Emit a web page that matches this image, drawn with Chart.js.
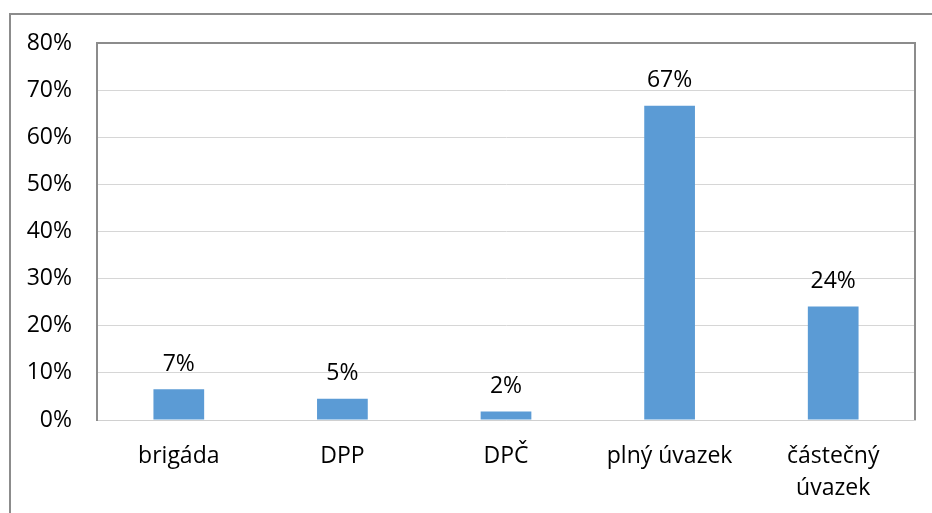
<!DOCTYPE html>
<html lang="cs">
<head>
    <meta charset="UTF-8">
    <title>Typ úvazku</title>
    <script src="https://cdn.jsdelivr.net/npm/chart.js"></script>
    <style>
        html, body { margin: 0; padding: 0; overflow: hidden; background: #fff; }
        .frame {
            position: absolute; left: 9px; top: 13px;
            width: 1000px; height: 600px;
            border-left: 2px solid #8c8c8c; border-top: 2px solid #8c8c8c;
        }
        .chart-box { position: absolute; left: 0; top: 0; width: 932px; height: 513px; }
    </style>
</head>
<body>
    <div class="frame"></div>
    <div class="chart-box">
        <canvas id="uvazekGraf"></canvas>
    </div>

    <script>
        // data z grafu
        const kategorie = ['brigáda', 'DPP', 'DPČ', 'plný úvazek', ['částečný', 'úvazek']];
        const podily = [6.5, 4.5, 1.8, 66.7, 24.1];
        const osaY = [0, 10, 20, 30, 40, 50, 60, 70, 80];

        const pismo = "'Open Sans', 'Liberation Sans', sans-serif";

        // popisky nad sloupci + horni a prava hrana plochy grafu
        const popiskyPlugin = {
            id: 'popisky',
            afterDatasetsDraw(chart) {
                const ctx = chart.ctx;
                const meta = chart.getDatasetMeta(0);
                ctx.save();
                ctx.font = '23px ' + pismo;
                ctx.fillStyle = '#000';
                ctx.textAlign = 'center';
                ctx.textBaseline = 'middle';
                meta.data.forEach((bar, i) => {
                    ctx.fillText(Math.round(podily[i]) + '%', bar.x, bar.y - 25);
                });
                ctx.restore();
            },
            afterDraw(chart) {
                const a = chart.chartArea;
                const ctx = chart.ctx;
                ctx.save();
                ctx.strokeStyle = '#8c8c8c';
                ctx.lineWidth = 2;
                ctx.beginPath();
                ctx.moveTo(a.left, a.top);
                ctx.lineTo(a.right, a.top);
                ctx.lineTo(a.right, a.bottom);
                ctx.stroke();
                ctx.restore();
            }
        };

        new Chart(document.getElementById('uvazekGraf'), {
            type: 'bar',
            data: {
                labels: kategorie,
                datasets: [{
                    data: podily,
                    backgroundColor: '#5B9BD5',
                    borderWidth: 0,
                    barPercentage: 0.31,
                    categoryPercentage: 1
                }]
            },
            options: {
                responsive: true,
                maintainAspectRatio: false,
                animation: false,
                layout: { padding: { top: 43, right: 17, left: 0, bottom: 0 } },
                plugins: {
                    legend: { display: false },
                    tooltip: { enabled: false }
                },
                scales: {
                    x: {
                        grid: { display: false, drawTicks: false },
                        border: { color: '#d0d0d0', width: 1 },
                        ticks: {
                            color: '#000',
                            padding: 20,
                            maxRotation: 0,
                            autoSkip: false,
                            font: { family: pismo, size: 23, lineHeight: 1.4 }
                        },
                        afterFit: s => { s.height = 93; }
                    },
                    y: {
                        min: 0,
                        max: 80,
                        afterBuildTicks: s => { s.ticks = osaY.map(v => ({ value: v })); },
                        grid: { color: '#d6d6d6', lineWidth: 1, drawTicks: false },
                        border: { color: '#8c8c8c', width: 2 },
                        ticks: {
                            color: '#000',
                            padding: 25,
                            font: { family: pismo, size: 23 },
                            callback: v => v + '%'
                        },
                        afterFit: s => { s.width = 97; }
                    }
                }
            },
            plugins: [popiskyPlugin]
        });
    </script>
</body>
</html>
